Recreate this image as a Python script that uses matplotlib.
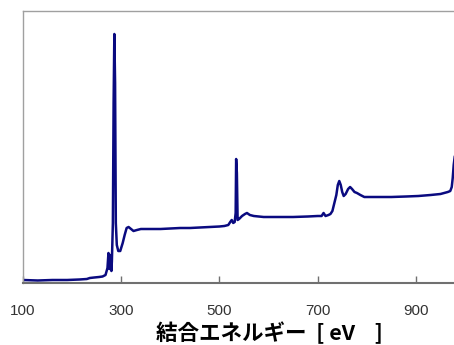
import matplotlib
matplotlib.use("Agg")
import matplotlib.pyplot as plt

# XPS wide scan (intensity in arbitrary units)
energy = [100, 130, 160, 190, 215, 230, 236, 245, 255, 262, 268, 272, 274, 276,
          278, 280, 281, 283, 284.5, 286, 287.5, 289, 291, 294, 298, 303, 307,
          311, 315, 320, 325, 332, 340, 360, 380, 400, 420, 440, 460, 480, 500,
          510, 518, 522, 525, 528, 531, 533, 534, 535.5, 537, 540, 546, 552,
          556, 562, 570, 590, 620, 650, 680, 700, 708, 712, 716, 722, 726, 730,
          734, 738, 741, 744, 747, 750, 753, 757, 762, 766, 770, 775, 780, 787,
          795, 800, 820, 850, 880, 905, 930, 950, 965, 970, 973, 975, 977, 979]
intensity = [3, 2.5, 3, 3, 3.5, 4, 5, 5.5, 6, 6.5, 8, 15, 30, 14,
             28, 12, 22, 60, 180, 249, 200, 60, 38, 32, 32, 40, 48,
             55, 56, 54, 52, 53, 54, 54, 54, 54.5, 55, 55, 55.5, 56, 56.5,
             57, 58, 61, 63, 60, 61, 70, 124, 110, 63, 64, 67, 69,
             70, 68, 67, 66, 66, 66, 66.5, 67, 67, 70, 67, 68, 69, 72,
             80, 88, 98, 102, 98, 91, 87, 89, 94, 96, 94, 91, 90, 88,
             86, 86, 86, 86, 86.5, 87, 88, 89, 91, 92, 96, 105, 118, 126]

ticks = [100, 300, 500, 700, 900]

fig = plt.figure(figsize=(4.54, 3.45), dpi=100)
# axes runs on past the right edge of the figure, as in the original
ax = fig.add_axes([23 / 454, (345 - 283) / 345, 442 / 454, 272 / 345])

ax.plot(energy, intensity, color="#0a0a80", lw=1.8, solid_joinstyle="round")

ax.set_xlim(100, 1000)
ax.set_ylim(0, 272)
ax.set_yticks([])
ax.set_xticks(ticks)
ax.set_xticklabels([str(t) for t in ticks], fontfamily="Liberation Sans",
                   fontsize=11, color="#333333")
ax.tick_params(axis="x", direction="in", length=5, width=1, color="#707070", pad=15)

for side in ["left", "top", "right"]:
    ax.spines[side].set_color("#a0a0a0")
    ax.spines[side].set_linewidth(1)
ax.spines["bottom"].set_color("#707070")
ax.spines["bottom"].set_linewidth(1.5)

fig.text(156 / 454, 1 - 333 / 345, "結合エネルギー  [ eV    ]",
         family=["Noto Sans CJK JP", "DejaVu Sans"], fontweight="bold",
         fontsize=15.5, ha="left", va="center", color="black")

fig.savefig("out.png", dpi=100)
